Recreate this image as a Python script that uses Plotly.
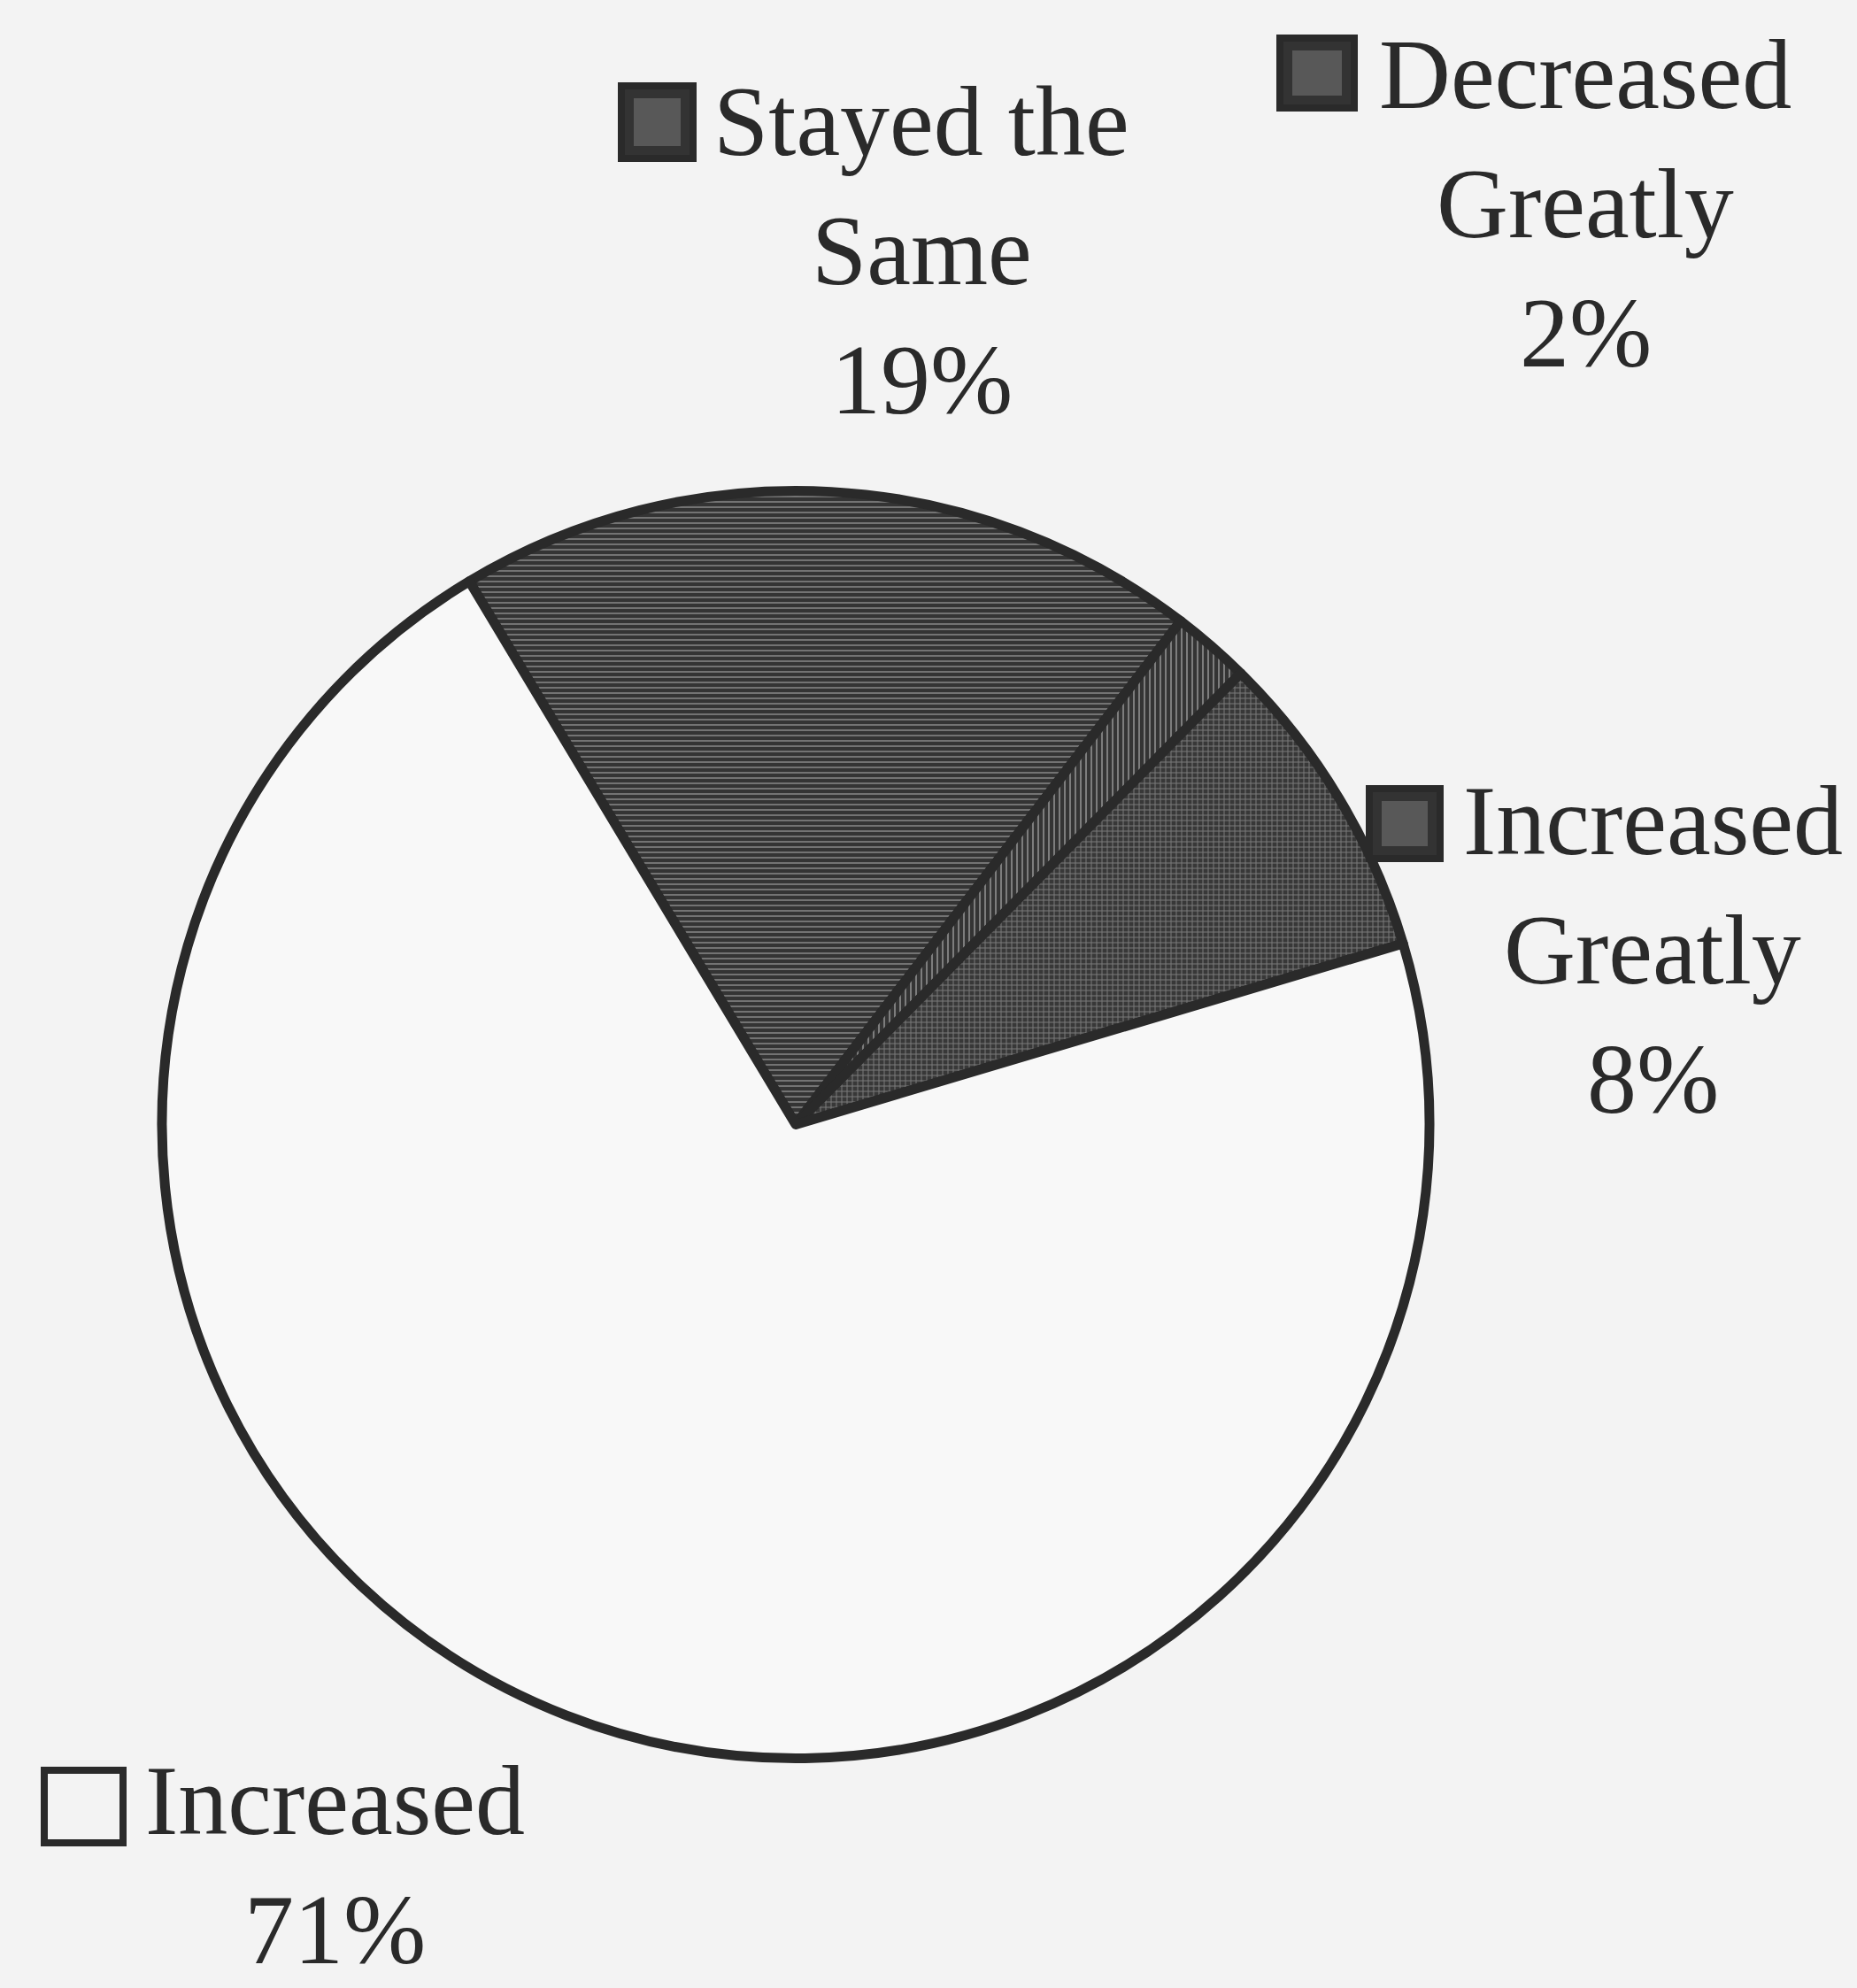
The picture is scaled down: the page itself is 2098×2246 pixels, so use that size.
import plotly.graph_objects as go

# Survey responses: change reported by respondents
labels = ["Stayed the Same", "Decreased Greatly", "Increased Greatly", "Increased"]
label_lines = [["Stayed the", "Same"], ["Decreased", "Greatly"], ["Increased", "Greatly"], ["Increased"]]
values = [19, 2, 8, 71]

# Hatch style per slice (pattern shape, background, line colour)
hatch_shapes = ["-", "|", "+", ""]
hatch_bg = ["#343434", "#343434", "#383838", "#f8f8f8"]
hatch_fg = ["#7a7a7a", "#858585", "#7a7a7a", "#f8f8f8"]

W, H = 2098, 2246
BG = "#f3f3f3"
INK = "#2a2a2a"
FONT = "Liberation Serif"
FS = 112
LINE_STEP = 146


def px_x(x):
    return x / W


def px_y(y):
    return 1 - y / H


fig = go.Figure()
fig.add_trace(go.Pie(
    labels=labels,
    values=values,
    sort=False,
    direction="clockwise",
    rotation=-31,
    textinfo="none",
    hoverinfo="label+percent",
    marker=dict(
        colors=hatch_bg,
        line=dict(color=INK, width=11),
        pattern=dict(shape=hatch_shapes, bgcolor=hatch_bg, fgcolor=hatch_fg,
                     size=6, solidity=0.3, fillmode="replace"),
    ),
    domain=dict(x=[px_x(183), px_x(1615)], y=[px_y(1993), px_y(548)]),
    showlegend=False,
))

# Label block layout: text centre x, first baseline y, key square box (pixels)
label_cx = [1041, 1791, 1867, 378]
label_base = [175, 122, 965, 2072]
key_boxes = [(702, 97, 783, 179), (1446, 43, 1530, 122), (1547, 891, 1627, 970), (50, 2000, 139, 2082)]

annotations = []
shapes = []
for i, lines in enumerate(label_lines):
    texts = lines + [f"{values[i]}%"]
    for j, t in enumerate(texts):
        baseline = label_base[i] + j * LINE_STEP
        annotations.append(dict(
            x=px_x(label_cx[i]), y=px_y(baseline - 0.3375 * FS),
            xref="paper", yref="paper", xanchor="center", yanchor="middle",
            text=t, showarrow=False,
            font=dict(family=FONT, size=FS, color=INK),
        ))
    x0, y0, x1, y1 = key_boxes[i]
    hatched = bool(hatch_shapes[i])
    shapes.append(dict(
        type="rect", xref="paper", yref="paper",
        x0=px_x(x0), x1=px_x(x1), y0=px_y(y1), y1=px_y(y0),
        fillcolor="#333333" if hatched else BG,
        line=dict(color=INK, width=8),
    ))
    if hatched:
        # lighter inner panel hints at the slice's hatch
        inset = 14
        shapes.append(dict(
            type="rect", xref="paper", yref="paper",
            x0=px_x(x0 + inset), x1=px_x(x1 - inset),
            y0=px_y(y1 - inset), y1=px_y(y0 + inset),
            fillcolor="#585858", line=dict(width=0),
        ))

fig.update_layout(
    width=W, height=H,
    margin=dict(l=0, r=0, t=0, b=0),
    paper_bgcolor=BG,
    plot_bgcolor=BG,
    annotations=annotations,
    shapes=shapes,
)

fig.write_html("out.html")
